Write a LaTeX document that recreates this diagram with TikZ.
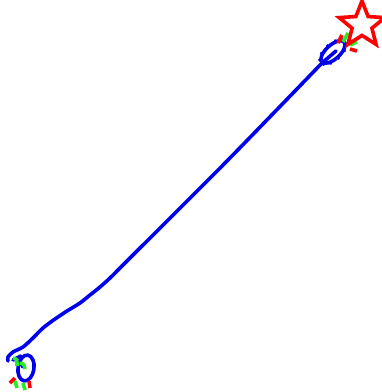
\documentclass[tikz,border=0pt]{standalone}
\usepackage{tikz}
\usetikzlibrary{shapes.geometric}
\definecolor{trajblue}{HTML}{0000EE}
\definecolor{axisred}{HTML}{FF0000}
\definecolor{axisgreen}{HTML}{22EE22}
\tikzstyle{path line} = [trajblue, line width=3.6pt, line cap=round, line join=round]
\tikzstyle{xaxis} = [axisred, line width=3.6pt]
\tikzstyle{yaxis} = [axisgreen, line width=3.6pt]
\tikzstyle{goal} = [draw=axisred, star, star points=5, star point ratio=2.3, minimum size=48pt, inner sep=0pt, line width=3.6pt]

\begin{document}
\begin{tikzpicture}[x=1pt, y=-1pt]
    \useasboundingbox (0,0) rectangle (382,392);
    % trajectory
    \draw[path line] plot[smooth] coordinates {(8,361) (8,357) (13,352) (23,347) (33,338) (43,328) (55,319) (67,311) (80,303) (90,295) (100,287) (110,278) (120,268) (130,258) (226,162) (322,63)};
    \draw[path line] (322,63) -- (336,51);
    % start pose
    \draw[path line] (26,368) ellipse [x radius=8, y radius=13, rotate=-8];
    \draw[path line] (13,360) -- (21,356);
    \draw[path line] (20,362) -- (23,367);
    \draw[yaxis] (13,358) .. controls (17,359) .. (17,366);
    \draw[yaxis] (20,363) .. controls (24,364) .. (25,369);
    \draw[xaxis] (10,383) -- (15,378);
    \draw[yaxis] (15,381) -- (17,388);
    \draw[yaxis] (23,383) -- (25,390);
    \draw[xaxis] (29,381) -- (30,388);
    % end pose
    \begin{scope}[shift={(333,52)}, rotate=42]
        \draw[path line] (0,0) ellipse [x radius=15, y radius=7];
        \foreach \a in {20,55,90,125,160,200,235,270,305,340}
            \draw[trajblue, line width=2.4pt] ({15*cos(\a)},{7*sin(\a)}) -- ({17.5*cos(\a)},{9.5*sin(\a)});
    \end{scope}
    \draw[xaxis] (338,43) -- (342,35);
    \draw[yaxis] (343,42) -- (348,33);
    \draw[yaxis] (350,45) -- (357,42);
    \draw[xaxis] (350,49) -- (357,51);
    % goal
    \node[goal] (target) at (362,25) {};
\end{tikzpicture}
\end{document}
